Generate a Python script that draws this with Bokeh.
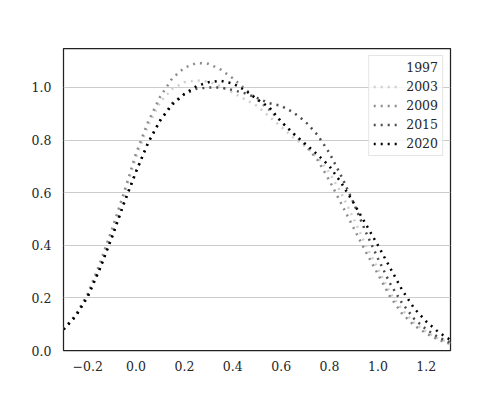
from bokeh.plotting import figure
from bokeh.models import Range1d, FixedTicker, Legend, LegendItem
from bokeh.embed import file_html
from bokeh.resources import INLINE

# sample positions on the x axis
xs = [-0.30, -0.25, -0.20, -0.15, -0.10, -0.05, 0.00, 0.05, 0.10, 0.15, 0.20,
      0.25, 0.30, 0.35, 0.40, 0.45, 0.50, 0.55, 0.60, 0.65, 0.70, 0.75, 0.80,
      0.85, 0.90, 0.95, 1.00, 1.05, 1.10, 1.15, 1.20, 1.25, 1.30]

# 1997 is drawn in white: not readable from the picture
y1997 = []
y2003 = [0.08, 0.13, 0.21, 0.325, 0.45, 0.59, 0.735, 0.855, 0.945, 0.995, 1.02,
         1.027, 1.022, 1.005, 0.98, 0.955, 0.93, 0.89, 0.85, 0.81, 0.775, 0.735, 0.675,
         0.595, 0.50, 0.40, 0.31, 0.22, 0.155, 0.105, 0.07, 0.045, 0.028]
y2009 = [0.08, 0.135, 0.215, 0.33, 0.46, 0.60, 0.75, 0.87, 0.965, 1.035, 1.075,
         1.093, 1.09, 1.068, 1.035, 0.995, 0.955, 0.915, 0.87, 0.825, 0.78, 0.725, 0.645,
         0.555, 0.465, 0.375, 0.29, 0.205, 0.14, 0.095, 0.065, 0.04, 0.025]
y2015 = [0.08, 0.13, 0.205, 0.31, 0.43, 0.56, 0.68, 0.79, 0.875, 0.94, 0.975,
         0.995, 1.0, 1.0, 0.99, 0.978, 0.96, 0.94, 0.93, 0.905, 0.87, 0.82, 0.75,
         0.66, 0.56, 0.45, 0.35, 0.255, 0.18, 0.12, 0.08, 0.05, 0.03]
y2020 = [0.08, 0.13, 0.205, 0.31, 0.43, 0.56, 0.68, 0.79, 0.875, 0.935, 0.975,
         1.005, 1.02, 1.025, 1.015, 0.99, 0.955, 0.925, 0.87, 0.825, 0.785, 0.745, 0.70,
         0.635, 0.56, 0.48, 0.40, 0.315, 0.23, 0.16, 0.11, 0.07, 0.04]

series_names = ["1997", "2003", "2009", "2015", "2020"]
series_values = [y1997, y2003, y2009, y2015, y2020]
series_colors = ["#ffffff", "#cfcfcf", "#8c8c8c", "#4d4d4d", "#000000"]

x_ticks = [-0.2, 0.0, 0.2, 0.4, 0.6, 0.8, 1.0, 1.2]
x_tick_labels = ["\u22120.2", "0.0", "0.2", "0.4", "0.6", "0.8", "1.0", "1.2"]
y_ticks = [0.0, 0.2, 0.4, 0.6, 0.8, 1.0]
y_tick_labels = ["0.0", "0.2", "0.4", "0.6", "0.8", "1.0"]

FONT = "DejaVu Serif"
FS = "12.5px"

p = figure(width=492, height=392, output_backend="svg", toolbar_location=None,
           x_range=Range1d(-0.3, 1.3), y_range=Range1d(0, 1.148),
           min_border_left=63, min_border_right=42, min_border_top=48,
           min_border_bottom=42)

p.outline_line_color = "#222222"
p.outline_line_width = 1.25
p.xgrid.grid_line_color = None
p.ygrid.grid_line_color = "#cccccc"
p.ygrid.grid_line_width = 1

for ax in (p.xaxis[0], p.yaxis[0]):
    ax.axis_line_color = None
    ax.major_tick_line_color = None
    ax.minor_tick_line_color = None
    ax.major_tick_out = 0
    ax.major_tick_in = 0
    ax.major_label_text_font = FONT
    ax.major_label_text_font_size = FS
    ax.major_label_text_color = "#262626"

p.xaxis.ticker = FixedTicker(ticks=x_ticks)
p.xaxis.major_label_overrides = {t: l for t, l in zip(x_ticks, x_tick_labels)}
p.xaxis.major_label_standoff = 10
p.yaxis.ticker = FixedTicker(ticks=y_ticks)
p.yaxis.major_label_overrides = {t: l for t, l in zip(y_ticks, y_tick_labels)}
p.yaxis.major_label_standoff = 12

items = []
for name, vals, col in zip(series_names, series_values, series_colors):
    xv = xs[:len(vals)]
    r = p.line(x=xv, y=vals, line_color=col, line_width=2.5,
               line_dash="2 5")
    items.append(LegendItem(label=name, renderers=[r]))

legend = Legend(items=items, location="top_right")
legend.margin = 7
legend.padding = 4
legend.spacing = 4
legend.glyph_width = 24
legend.glyph_height = 15
legend.label_height = 15
legend.label_standoff = 9
legend.label_text_font = FONT
legend.label_text_font_size = FS
legend.label_text_color = "#262626"
legend.border_line_color = "#cccccc"
legend.border_line_width = 1
legend.background_fill_color = "white"
legend.background_fill_alpha = 0.8
p.add_layout(legend, "center")

open("out.html", "w").write(file_html(p, INLINE))
